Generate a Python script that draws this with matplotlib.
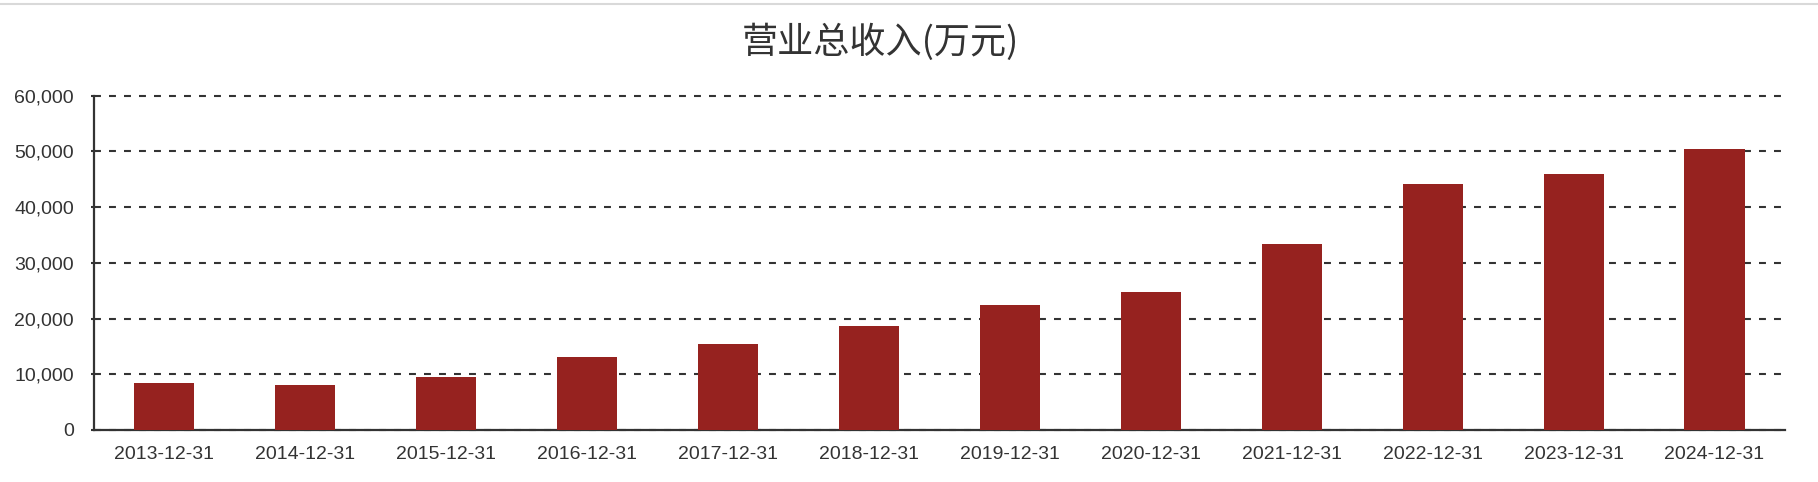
import matplotlib
matplotlib.use("Agg")
import matplotlib.pyplot as plt
from matplotlib.lines import Line2D
from matplotlib.ticker import FuncFormatter

# data
dates = ["2013-12-31", "2014-12-31", "2015-12-31", "2016-12-31", "2017-12-31", "2018-12-31",
         "2019-12-31", "2020-12-31", "2021-12-31", "2022-12-31", "2023-12-31", "2024-12-31"]
revenue = [8440, 8080, 9520, 13160, 15440, 18620, 22440, 24830, 33340, 44110, 46020, 50450]
y_ticks = [0, 10000, 20000, 30000, 40000, 50000, 60000]
title = "营业总收入(万元)"

plt.rcParams['font.family'] = ['Liberation Sans', 'Noto Sans CJK SC', 'DejaVu Sans']
plt.rcParams['lines.scale_dashes'] = False

W, H = 1818, 482
fig = plt.figure(figsize=(W / 100, H / 100), dpi=100)
ax = fig.add_axes([93.5 / W, 1 - 430 / H, (1785 - 93.5) / W, (430 - 95.7) / H])

x = list(range(len(dates)))
ax.bar(x, revenue, width=0.426, color="#96221f", zorder=3)

ax.set_xlim(-0.5, len(dates) - 0.5)
ax.set_ylim(0, 60000)
ax.set_yticks(y_ticks)
ax.yaxis.set_major_formatter(FuncFormatter(lambda v, p: f"{int(v):,}"))
ax.set_xticks(x)
ax.set_xticklabels(dates)

ax.grid(axis="y", color="#333333", linewidth=1.5, dashes=(5, 5.8), zorder=1)
ax.grid(axis="x", visible=False)
for gl in ax.get_ygridlines():
    gl.set_clip_on(False)

for s in ["top", "right"]:
    ax.spines[s].set_visible(False)
for s in ["left", "bottom"]:
    ax.spines[s].set_color("#333333")
    ax.spines[s].set_linewidth(1.6)

ax.tick_params(axis="y", length=2.5, width=1.5, color="#333333", pad=11.5,
               labelsize=14, labelcolor="#333333")
ax.tick_params(axis="x", length=0, pad=11.5, labelsize=14, labelcolor="#333333")

fig.text(880 / W, 1 - 42.5 / H, title, ha="center", va="center", fontsize=26,
         color="#333333", family=['Noto Sans CJK SC', 'DejaVu Sans'])

# thin grey border line at the very top
fig.add_artist(Line2D([0, 1], [1 - 4 / H, 1 - 4 / H], transform=fig.transFigure,
                      color="#d9d9d9", linewidth=1.5))

fig.savefig("out.png", dpi=100)
